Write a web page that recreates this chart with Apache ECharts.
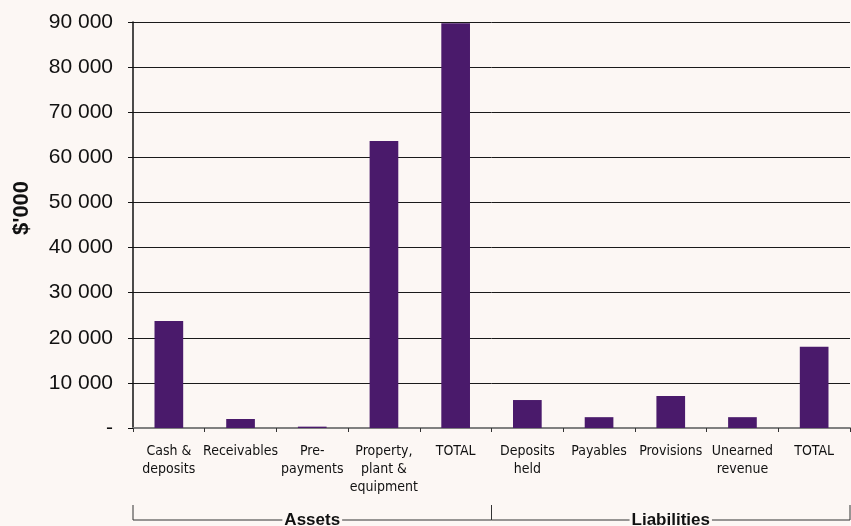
<!DOCTYPE html>
<html>
<head>
<meta charset="utf-8">
<script src="https://cdn.jsdelivr.net/npm/echarts@6/dist/echarts.min.js"></script>
<style>
  html, body { margin: 0; padding: 0; background: #fcf7f4; }
  #chart { width: 851px; height: 526px; }
</style>
</head>
<body>
<div id="chart"></div>
<script>
// Balance sheet items, $'000
const categories = [
  'Cash &\ndeposits', 'Receivables', 'Pre-\npayments', 'Property,\nplant &\nequipment', 'TOTAL',
  'Deposits\nheld', 'Payables', 'Provisions', 'Unearned\nrevenue', 'TOTAL'
];
const values = [23700, 2000, 300, 63600, 89700, 6200, 2400, 7100, 2400, 18000];
const groups = [
  { name: 'Assets', from: 0, to: 4 },
  { name: 'Liabilities', from: 5, to: 9 }
];
const yTicks = { min: 0, max: 90000, interval: 10000 };
const yTitle = "$'000";

const bg = '#fcf7f4';
const chart = echarts.init(document.getElementById('chart'), null, { renderer: 'canvas' });

function fmt(v) {
  if (v === 0) return '-';
  return String(v).replace(/\B(?=(\d{3})+(?!\d))/g, ' ');
}

chart.setOption({
  backgroundColor: bg,
  animation: false,
  grid: { left: 133, right: 1, top: 22, bottom: 98 },
  xAxis: {
    type: 'category',
    data: categories.map((c, i) => i + ''),
    axisLine: { lineStyle: { color: '#808080', width: 2 } },
    axisTick: { show: true, length: 4, lineStyle: { color: '#333', width: 1 } },
    axisLabel: {
      formatter: (v) => categories[+v],
      interval: 0,
      margin: 14,
      fontFamily: '"DejaVu Sans Condensed", "Liberation Sans Narrow", sans-serif',
      fontSize: 14,
      lineHeight: 18,
      color: '#111'
    }
  },
  yAxis: {
    type: 'value',
    min: yTicks.min,
    max: yTicks.max,
    interval: yTicks.interval,
    axisLine: { show: true, lineStyle: { color: '#111', width: 1.5 } },
    axisTick: { show: true, length: 5, lineStyle: { color: '#111' } },
    axisLabel: {
      formatter: fmt,
      margin: 20,
      fontFamily: '"Liberation Sans", Arial, sans-serif',
      fontSize: 21,
      color: '#111'
    },
    splitLine: { show: true, lineStyle: { color: '#1a1a1a', width: 1 } }
  },
  series: [{
    type: 'bar',
    data: values,
    barWidth: '40%',
    itemStyle: { color: '#4a1a6b' }
  }]
});

// Axis title and group brackets under the category labels
function drawExtras() {
  const c0 = chart.convertToPixel({ xAxisIndex: 0 }, '0');
  const c1 = chart.convertToPixel({ xAxisIndex: 0 }, '1');
  const step = c1 - c0;
  const yTop = 505, yLine = 520;
  const elements = [{
    type: 'text',
    x: 22,
    y: 208,
    rotation: Math.PI / 2,
    style: {
      text: yTitle,
      fontFamily: '"Liberation Sans", Arial, sans-serif',
      fontWeight: 'bold',
      fontSize: 22,
      fill: '#111',
      align: 'center',
      verticalAlign: 'middle'
    }
  }];
  groups.forEach((g) => {
    const x0 = chart.convertToPixel({ xAxisIndex: 0 }, g.from + '') - step / 2;
    const x1 = chart.convertToPixel({ xAxisIndex: 0 }, g.to + '') + step / 2;
    elements.push({
      type: 'polyline',
      shape: { points: [[x0, yTop], [x0, yLine], [x1, yLine], [x1, yTop]] },
      style: { stroke: '#333', lineWidth: 1, fill: null }
    });
    elements.push({
      type: 'text',
      x: (x0 + x1) / 2,
      y: yLine,
      style: {
        text: g.name,
        fontFamily: '"Liberation Sans", Arial, sans-serif',
        fontWeight: 'bold',
        fontSize: 17,
        fill: '#111',
        align: 'center',
        verticalAlign: 'middle',
        backgroundColor: bg,
        padding: [0, 2]
      },
      z: 10
    });
  });
  chart.setOption({ graphic: { elements } });
}
drawExtras();
</script>
</body>
</html>
